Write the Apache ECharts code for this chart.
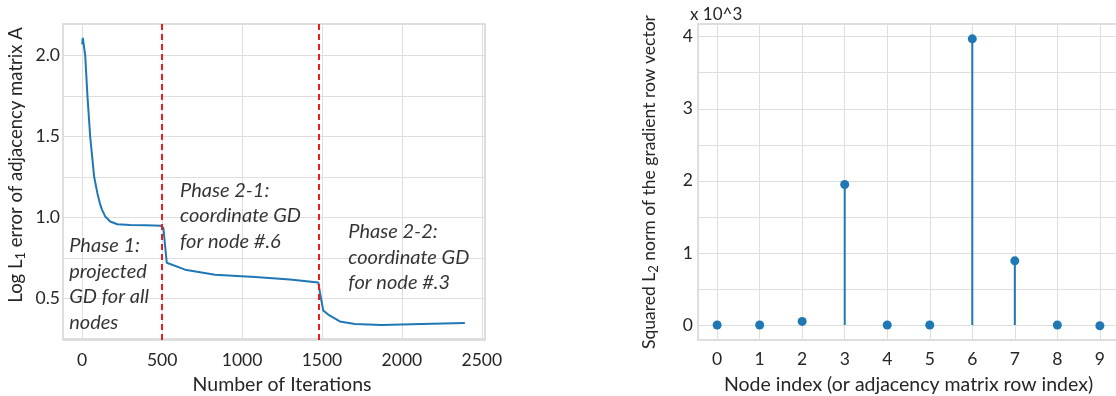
<!DOCTYPE html>
<html>
<head>
	<meta charset="UTF-8">
	<title>GD phases</title>
	<script src="https://cdn.jsdelivr.net/npm/echarts@6/dist/echarts.min.js"></script>
	<style>
		html, body { margin: 0; padding: 0; background: #fff; }
		#chart { width: 1116px; height: 396px; }
	</style>
</head>
<body>
<div id="chart"></div>
<script>
// left panel: log L1 error vs iteration
var iterations = [0, 4, 19, 33, 50, 75, 95, 110, 123, 144, 175, 220, 300, 400, 492, 498, 508, 529,
	644, 831, 1081, 1300, 1477, 1490, 1508, 1539, 1612, 1706, 1873, 2123, 2394];
var logL1Error = [2.07, 2.11, 2.0, 1.75, 1.5, 1.25, 1.15, 1.09, 1.05, 1.006, 0.975, 0.958, 0.953, 0.951, 0.949, 0.948, 0.934, 0.72,
	0.677, 0.646, 0.632, 0.616, 0.598, 0.52, 0.425, 0.399, 0.357, 0.341, 0.335, 0.341, 0.347];
var phaseBounds = [500, 1480];
var phaseNotes = ['Phase 1:\nprojected\nGD for all\nnodes', 'Phase 2-1:\ncoordinate GD\nfor node #.6', 'Phase 2-2:\ncoordinate GD\nfor node #.3'];
var phaseNoteIter = [-81, 612, 1665];
var phaseNoteVal = [0.904, 1.245, 0.989];

// right panel: squared L2 norm per node (x 10^3)
var nodeIndex = [0, 1, 2, 3, 4, 5, 6, 7, 8, 9];
var gradNorm = [0, 0, 0.05, 1.95, 0, 0, 3.97, 0.89, 0, -0.01];

var txt = '#262626';
var font = 'Lato';
var blue = '#1f77b4';

function axisName(size) {
	return {
		fontSize: size, color: txt, fontFamily: font,
		rich: {
			n: { fontSize: size, color: txt, fontFamily: font },
			s: { fontSize: 13, color: txt, fontFamily: font, verticalAlign: 'bottom', padding: [8, 0, 0, 0] }
		}
	};
}

var myChart = echarts.init(document.getElementById('chart'), null, { renderer: 'canvas' });

var lineData = [];
for (var i = 0; i < iterations.length; i++) {
	lineData.push([iterations[i], logL1Error[i]]);
}
var noteData = [];
for (var j = 0; j < phaseNotes.length; j++) {
	noteData.push({ value: [phaseNoteIter[j], phaseNoteVal[j]], name: phaseNotes[j] });
}
var stemData = [];
for (var k = 0; k < nodeIndex.length; k++) {
	stemData.push([nodeIndex[k], gradNorm[k]]);
}

var option = {
	backgroundColor: '#fff',
	animation: false,
	textStyle: { fontFamily: font },
	title: {
		text: 'x 10^3',
		left: 685,
		top: 1,
		textStyle: { fontSize: 17, fontWeight: 'normal', color: txt, fontFamily: font }
	},
	grid: [
		{ left: 63, top: 24, width: 422, height: 316, show: true, borderColor: '#d2d2d2', borderWidth: 1.5, outerBoundsMode: 'none' },
		{ left: 698, top: 24, right: -3, height: 316, show: true, borderColor: '#d2d2d2', borderWidth: 1.5, outerBoundsMode: 'none' }
	],
	xAxis: [
		{
			gridIndex: 0, type: 'value', min: -120, max: 2520, minInterval: 500, maxInterval: 500,
			axisLine: { show: false }, axisTick: { show: false },
			axisLabel: {
				fontSize: 17.5, color: txt, margin: 11, showMinLabel: false, showMaxLabel: false,
				formatter: function (v) { return String(v); }
			},
			splitLine: { lineStyle: { color: '#dedede', width: 1 } },
			name: 'Number of Iterations', nameLocation: 'middle', nameGap: 35,
			nameTextStyle: { fontSize: 19.5, color: txt, padding: [0, 0, 0, 16] }
		},
		{
			gridIndex: 1, type: 'value', min: -0.45, max: 9.45, minInterval: 1, maxInterval: 1,
			axisLine: { show: false }, axisTick: { show: false },
			axisLabel: {
				fontSize: 17.5, color: txt, margin: 10, showMinLabel: false, showMaxLabel: false,
				formatter: function (v) { return String(v); }
			},
			splitLine: { lineStyle: { color: '#dedede', width: 1 } },
			name: 'Node index (or adjacency matrix row index)', nameLocation: 'middle', nameGap: 35,
			nameTextStyle: { fontSize: 19.5, color: txt }
		}
	],
	yAxis: [
		{
			gridIndex: 0, type: 'value', min: 0.242, max: 2.196, minInterval: 0.25, maxInterval: 0.25,
			axisLine: { show: false }, axisTick: { show: false },
			axisLabel: {
				fontSize: 17.5, color: txt, margin: 3, showMinLabel: false, showMaxLabel: false,
				formatter: function (v) {
					return Math.abs(v * 2 - Math.round(v * 2)) < 1e-6 ? v.toFixed(1) : '';
				}
			},
			splitLine: { lineStyle: { color: '#dedede', width: 1 } },
			name: '{n|Log L}{s|1}{n| error of adjacency matrix A}', nameLocation: 'middle', nameGap: 36,
			nameTextStyle: Object.assign(axisName(18.5), { padding: [0, 0, 0, 34] })
		},
		{
			gridIndex: 1, type: 'value', min: -0.208, max: 4.176, minInterval: 0.5, maxInterval: 0.5,
			axisLine: { show: false }, axisTick: { show: false },
			axisLabel: {
				fontSize: 17.5, color: txt, margin: 5, showMinLabel: false, showMaxLabel: false,
				formatter: function (v) {
					return Math.abs(v - Math.round(v)) < 1e-6 ? String(Math.round(v)) : '';
				}
			},
			splitLine: { lineStyle: { color: '#dedede', width: 1 } },
			name: '{n|Squared L}{s|2}{n| norm of the gradient row vector}', nameLocation: 'middle', nameGap: 38,
			nameTextStyle: axisName(17.5)
		}
	],
	series: [
		{
			name: 'log L1 error',
			type: 'line',
			xAxisIndex: 0, yAxisIndex: 0,
			data: lineData,
			showSymbol: false,
			lineStyle: { color: blue, width: 2 },
			markLine: {
				silent: true,
				symbol: 'none',
				label: { show: false },
				lineStyle: { color: '#ee1c1c', type: [6, 4], width: 2 },
				data: phaseBounds.map(function (b) { return { xAxis: b }; })
			}
		},
		{
			name: 'phase notes',
			type: 'scatter',
			xAxisIndex: 0, yAxisIndex: 0,
			symbolSize: 0,
			silent: true,
			data: noteData,
			label: {
				show: true,
				position: [0, 0],
				align: 'left',
				verticalAlign: 'top',
				formatter: function (p) { return p.name; },
				fontSize: 20,
				fontStyle: 'italic',
				fontFamily: font,
				lineHeight: 25.5,
				color: '#000'
			}
		},
		{
			name: 'stems',
			type: 'custom',
			xAxisIndex: 1, yAxisIndex: 1,
			data: stemData,
			renderItem: function (params, api) {
				var top = api.coord([api.value(0), api.value(1)]);
				var base = api.coord([api.value(0), 0]);
				return {
					type: 'line',
					shape: { x1: base[0], y1: base[1], x2: top[0], y2: top[1] },
					style: { stroke: blue, lineWidth: 2 }
				};
			}
		},
		{
			name: 'grad norm',
			type: 'scatter',
			xAxisIndex: 1, yAxisIndex: 1,
			data: stemData,
			symbolSize: 9,
			itemStyle: { color: blue, opacity: 1 }
		}
	]
};
myChart.setOption(option);
</script>
</body>
</html>
